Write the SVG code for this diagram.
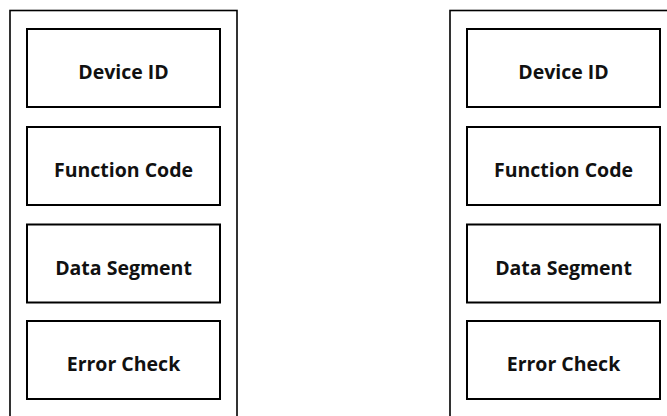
<svg xmlns="http://www.w3.org/2000/svg" width="667" height="416" viewBox="0 0 667 416">
<style>
.outer{fill:none;stroke:#000;stroke-width:1.6}
.box{fill:#fff;stroke:#000;stroke-width:2}
.lbl{font-family:"Open Sans","Noto Sans",sans-serif;font-weight:bold;font-size:19.5px;fill:#111;text-anchor:middle}
</style>
<rect width="667" height="416" fill="#fff"/>
<g id="frame-left">
<rect class="outer" x="10" y="10.5" width="227" height="420"/>
</g>
<g id="frame-right">
<rect class="outer" x="450" y="10.5" width="227" height="420"/>
</g>
<g id="left-device-id"><rect class="box" x="27" y="29" width="193" height="78"/><text class="lbl" x="123.5" y="79">Device ID</text></g>
<g id="left-function-code"><rect class="box" x="27" y="127" width="193" height="78"/><text class="lbl" x="123.5" y="177">Function Code</text></g>
<g id="left-data-segment"><rect class="box" x="27" y="224.5" width="193" height="78"/><text class="lbl" x="123.5" y="274.5">Data Segment</text></g>
<g id="left-error-check"><rect class="box" x="27" y="321" width="193" height="78"/><text class="lbl" x="123.5" y="371">Error Check</text></g>
<g id="right-device-id"><rect class="box" x="467" y="29" width="193" height="78"/><text class="lbl" x="563.5" y="79">Device ID</text></g>
<g id="right-function-code"><rect class="box" x="467" y="127" width="193" height="78"/><text class="lbl" x="563.5" y="177">Function Code</text></g>
<g id="right-data-segment"><rect class="box" x="467" y="224.5" width="193" height="78"/><text class="lbl" x="563.5" y="274.5">Data Segment</text></g>
<g id="right-error-check"><rect class="box" x="467" y="321" width="193" height="78"/><text class="lbl" x="563.5" y="371">Error Check</text></g>
<g id="connectors"></g>
</svg>
